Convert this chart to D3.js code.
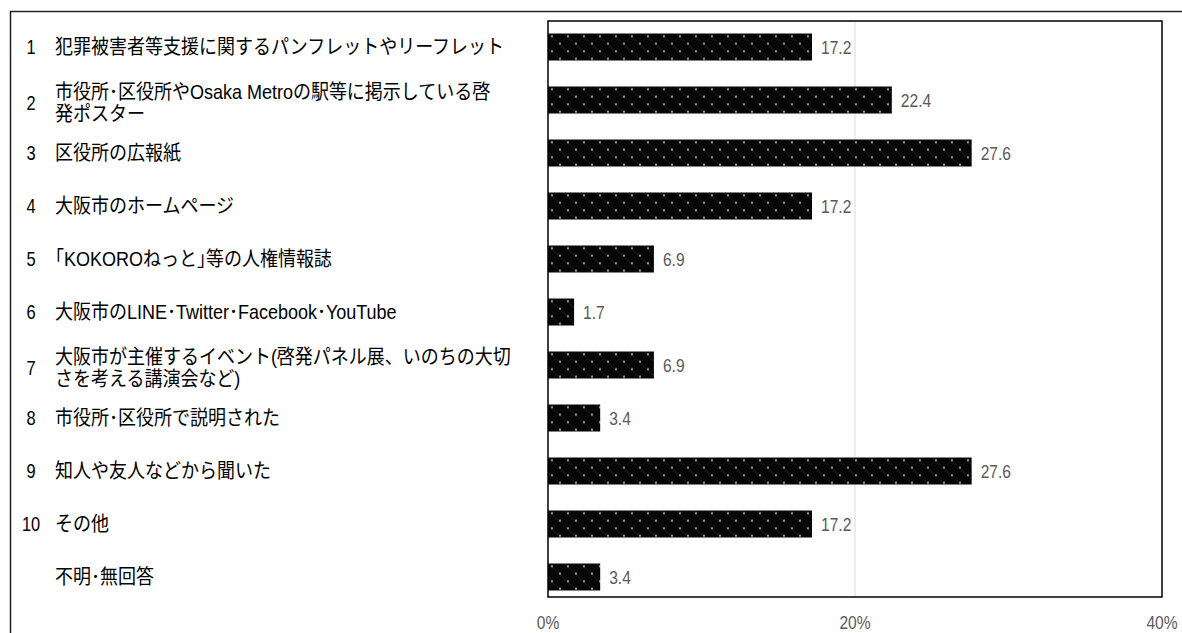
<!DOCTYPE html>
<html lang="ja">
<head>
<meta charset="utf-8">
<script src="https://cdn.jsdelivr.net/npm/d3@7"></script>
<style>
  html, body { margin: 0; padding: 0; background: #fff; }
  svg { display: block; }
  .cat { font-family: "Liberation Sans", "Noto Sans CJK JP", sans-serif; font-size: 20px; fill: #000; }
  .val, .tick-label { font-family: "Liberation Sans", Arial, sans-serif; font-size: 19px; fill: #595959; }
</style>
</head>
<body>
<svg id="chart" width="1182" height="633"></svg>
<script>
// Item numbers shown at the left of each row
const itemNumbers = ["1", "2", "3", "4", "5", "6", "7", "8", "9", "10", ""];

// Item labels, one array entry per text line
const itemLabels = [
  ["犯罪被害者等支援に関するパンフレットやリーフレット"],
  ["市役所･区役所やOsaka Metroの駅等に掲示している啓", "発ポスター"],
  ["区役所の広報紙"],
  ["大阪市のホームページ"],
  ["｢KOKOROねっと｣等の人権情報誌"],
  ["大阪市のLINE･Twitter･Facebook･YouTube"],
  ["大阪市が主催するイベント(啓発パネル展、いのちの大切", "さを考える講演会など)"],
  ["市役所･区役所で説明された"],
  ["知人や友人などから聞いた"],
  ["その他"],
  ["不明･無回答"]
];

// Share of respondents (%)
const values = [17.2, 22.4, 27.6, 17.2, 6.9, 1.7, 6.9, 3.4, 27.6, 17.2, 3.4];

// Axis ticks (%)
const tickValues = [0, 20, 40];

const svg = d3.select("#chart");
const W = 1182, H = 633;
const plot = { left: 548, right: 1162, top: 21, bottom: 597 };
const barH = 27;
const narrow = 0.82;   // horizontal squeeze for the condensed number face
const catSqueeze = 0.9;
const rows = d3.range(values.length);

const x = d3.scaleLinear().domain([0, 40]).range([plot.left, plot.right]);
const y = d3.scalePoint().domain(rows).range([47, 577]);

// Dotted fill for the bars
const defs = svg.append("defs");
const pat = defs.append("pattern")
  .attr("id", "dots")
  .attr("patternUnits", "userSpaceOnUse")
  .attr("width", 16).attr("height", 15);
pat.append("rect").attr("width", 16).attr("height", 15).attr("fill", "#060606");
pat.append("path")
  .attr("d", "M0,0L16,15M8,-7.5L24,7.5M-8,7.5L8,22.5")
  .attr("stroke", "#202020").attr("stroke-width", 1);
pat.append("circle").attr("cx", 4).attr("cy", 2.7).attr("r", 0.9).attr("fill", "#e6e6e6");
pat.append("circle").attr("cx", 12).attr("cy", 10.2).attr("r", 0.9).attr("fill", "#e6e6e6");

// Outer frame (top and left edges)
svg.append("path")
  .attr("d", `M10.5,${H}V11.5H${W}`)
  .attr("fill", "none").attr("stroke", "#222").attr("stroke-width", 1.5);

// Vertical gridlines
svg.append("g")
  .selectAll("line")
  .data(tickValues.filter(t => t > 0 && t < 40))
  .join("line")
  .attr("x1", d => x(d)).attr("x2", d => x(d))
  .attr("y1", plot.top).attr("y2", plot.bottom)
  .attr("stroke", "#d9d9d9").attr("stroke-width", 1);

// Bars
const bars = svg.append("g")
  .selectAll("g")
  .data(rows)
  .join("g")
  .attr("transform", i => `translate(${x(0)},${y(i) - barH / 2})`);
bars.append("rect")
  .attr("x", 0).attr("y", 0)
  .attr("width", i => x(values[i]) - x(0))
  .attr("height", barH)
  .attr("fill", "url(#dots)");

// Value labels
svg.append("g")
  .selectAll("text")
  .data(rows)
  .join("text")
  .attr("class", "val")
  .attr("transform", i => `translate(${x(values[i]) + 9},${y(i)}) scale(${narrow},1)`)
  .attr("dy", "0.35em")
  .text(i => values[i].toFixed(1));

// Plot border
svg.append("rect")
  .attr("x", plot.left).attr("y", plot.top)
  .attr("width", plot.right - plot.left)
  .attr("height", plot.bottom - plot.top)
  .attr("fill", "none").attr("stroke", "#000").attr("stroke-width", 1.5);

// Tick labels
svg.append("g")
  .selectAll("text")
  .data(tickValues)
  .join("text")
  .attr("class", "tick-label")
  .attr("transform", d => `translate(${x(d)},622) scale(${narrow},1)`)
  .attr("dy", "0.35em")
  .attr("text-anchor", "middle")
  .text(d => d + "%");

// Category labels
const lineGap = 22;
const cats = svg.append("g")
  .selectAll("g")
  .data(rows)
  .join("g")
  .attr("transform", i => `translate(0,${y(i) + (itemLabels[i].length > 1 ? 3 : 0)})`);
cats.append("text")
  .attr("class", "cat")
  .attr("transform", `translate(31,0) scale(${narrow},1)`)
  .attr("dy", "0.35em")
  .attr("text-anchor", "middle")
  .text(i => itemNumbers[i]);
cats.append("text")
  .attr("class", "cat")
  .attr("transform", `translate(55,0) scale(${catSqueeze},1)`)
  .each(function (i) {
    const lines = itemLabels[i];
    const off = -(lines.length - 1) * lineGap / 2;
    d3.select(this).selectAll("tspan")
      .data(lines)
      .join("tspan")
      .attr("x", 0)
      .attr("y", (d, k) => off + k * lineGap)
      .attr("dy", "0.35em")
      .text(d => d);
  });
</script>
</body>
</html>
